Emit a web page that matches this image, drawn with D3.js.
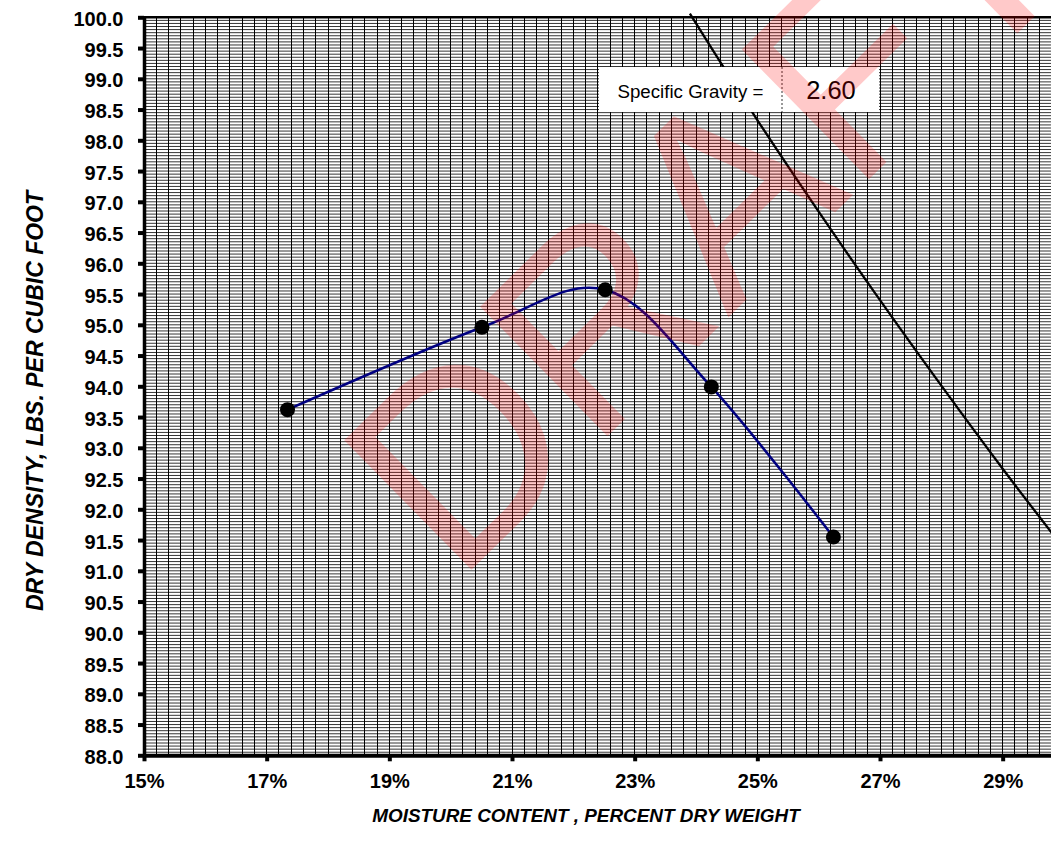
<!DOCTYPE html>
<html>
<head>
<meta charset="utf-8">
<script src="https://cdn.jsdelivr.net/npm/d3@7"></script>
<style>
  html, body { margin: 0; padding: 0; background: #fff; }
  svg { display: block; font-family: Arial, "Liberation Sans", sans-serif; }
</style>
</head>
<body>
<svg id="chart" width="1051" height="853"></svg>
<script>
// ---- data ----
const moisture = [17.34, 20.51, 22.52, 24.25, 26.24];          // percent
const dryDensity = [93.62, 94.96, 95.57, 93.99, 91.55];        // pcf
// zero-air-voids line (Gs = 2.60)
const zavMoisture = [23.9, 25, 26, 27, 28, 29, 30];
const zavDensity = [100.06, 98.33, 96.84, 95.40, 94.01, 92.66, 91.36];
const xTicks = [15, 17, 19, 21, 23, 25, 27, 29];
const yTicks = [88, 88.5, 89, 89.5, 90, 90.5, 91, 91.5, 92, 92.5, 93, 93.5, 94,
                94.5, 95, 95.5, 96, 96.5, 97, 97.5, 98, 98.5, 99, 99.5, 100];
const xDomain = [15, 30];
const yDomain = [88, 100];
const xMinorStep = 0.2;
const yMinorStep = 0.05;
const specificGravityLabel = "Specific Gravity =";
const specificGravityValue = "2.60";
const xTitle = "MOISTURE CONTENT , PERCENT DRY WEIGHT";
const yTitle = "DRY DENSITY, LBS. PER CUBIC FOOT";
const watermark = "DRAFT";

(function () {
// ---- layout ----
const W = 1051, H = 853;
const pL = 144, pR = 1064, pT = 17.3, pB = 755.3;

const svg = d3.select("#chart");
svg.append("rect").attr("width", W).attr("height", H).attr("fill", "#fff");

const x = d3.scaleLinear().domain(xDomain).range([pL, pR]);
const y = d3.scaleLinear().domain(yDomain).range([pB, pT]);

// grid
const nx = Math.round((xDomain[1] - xDomain[0]) / xMinorStep);
const ny = Math.round((yDomain[1] - yDomain[0]) / yMinorStep);
svg.append("g").attr("stroke", "#000").attr("stroke-width", 0.8)
  .selectAll("line").data(d3.range(1, ny).map(i => yDomain[0] + i * yMinorStep))
  .join("line")
  .attr("x1", pL).attr("x2", pR)
  .attr("y1", d => y(d)).attr("y2", d => y(d));
svg.append("g").attr("stroke", "#000").attr("stroke-width", 1)
  .attr("shape-rendering", "crispEdges")
  .selectAll("line").data(d3.range(1, nx + 1).map(i => xDomain[0] + i * xMinorStep))
  .join("line")
  .attr("x1", d => x(d)).attr("x2", d => x(d))
  .attr("y1", pT).attr("y2", pB);

// top border
svg.append("line").attr("x1", pL).attr("x2", pR).attr("y1", pT).attr("y2", pT)
  .attr("stroke", "#000").attr("stroke-width", 2.5);

// zero air voids line
svg.append("path")
  .datum(zavMoisture.map((m, i) => [m, zavDensity[i]]))
  .attr("fill", "none").attr("stroke", "#000").attr("stroke-width", 2.3)
  .attr("d", d3.line().x(d => x(d[0])).y(d => y(d[1])).curve(d3.curveMonotoneX));

// compaction curve
const pts = moisture.map((m, i) => [m, dryDensity[i]]);
svg.append("path").datum(pts)
  .attr("fill", "none").attr("stroke", "#000080").attr("stroke-width", 2.5)
  .attr("d", d3.line().x(d => x(d[0])).y(d => y(d[1])).curve(d3.curveCardinal.tension(0)));
svg.append("g").selectAll("circle").data(pts).join("circle")
  .attr("cx", d => x(d[0])).attr("cy", d => y(d[1])).attr("r", 7.5).attr("fill", "#000");

// axes
const yAxis = d3.axisLeft(y).tickValues(yTicks).tickFormat(d3.format(".1f"))
  .tickSize(6).tickSizeOuter(0).tickPadding(14.5);
const gy = svg.append("g").attr("transform", `translate(${pL},0)`).call(yAxis);
gy.select(".domain").attr("stroke", "#000").attr("stroke-width", 3.5);
gy.selectAll(".tick line").attr("stroke", "#000").attr("stroke-width", 4);
gy.selectAll(".tick text").attr("font-size", 20).attr("font-weight", "bold")
  .attr("font-family", "Arial, 'Liberation Sans', sans-serif").attr("fill", "#000").attr("dy", "0.4em");

const xAxis = d3.axisBottom(x).tickValues(xTicks).tickFormat(d => d + "%")
  .tickSize(6).tickSizeOuter(0).tickPadding(12.8);
const gx = svg.append("g").attr("transform", `translate(0,${pB})`).call(xAxis);
gx.select(".domain").attr("stroke", "#000").attr("stroke-width", 4);
gx.selectAll(".tick line").attr("stroke", "#000").attr("stroke-width", 4);
gx.selectAll(".tick text").attr("font-size", 20).attr("font-weight", "bold")
  .attr("font-family", "Arial, 'Liberation Sans', sans-serif").attr("fill", "#000");

// specific gravity box
const box = svg.append("g");
box.append("rect").attr("x", 599).attr("y", 67).attr("width", 280).attr("height", 45).attr("fill", "#fff");
box.append("line").attr("x1", 782).attr("x2", 782).attr("y1", 67).attr("y2", 112)
  .attr("stroke", "#333").attr("stroke-width", 1).attr("stroke-dasharray", "2,2");
box.append("text").attr("x", 617.5).attr("y", 97.5).attr("font-size", 18.7)
  .attr("fill", "#000").text(specificGravityLabel);
box.append("text").attr("x", 831).attr("y", 99).attr("font-size", 25.5)
  .attr("text-anchor", "middle").attr("fill", "#000").text(specificGravityValue);

// axis titles
svg.append("text").attr("x", 586).attr("y", 822).attr("text-anchor", "middle")
  .attr("font-size", 18.9).attr("font-weight", "bold").attr("font-style", "italic")
  .attr("fill", "#000").text(xTitle);
svg.append("text").attr("transform", "translate(43,401) rotate(-90)").attr("text-anchor", "middle")
  .attr("font-size", 23).attr("font-weight", "bold").attr("font-style", "italic")
  .attr("fill", "#000").text(yTitle);

// watermark
svg.append("text").attr("transform", "translate(456,585) rotate(-44.5)")
  .attr("font-size", 264).attr("font-family", "Arial, 'Liberation Sans', sans-serif")
  .attr("fill", "#ff0000").attr("fill-opacity", 0.21).text(watermark);
})();
</script>
</body>
</html>
